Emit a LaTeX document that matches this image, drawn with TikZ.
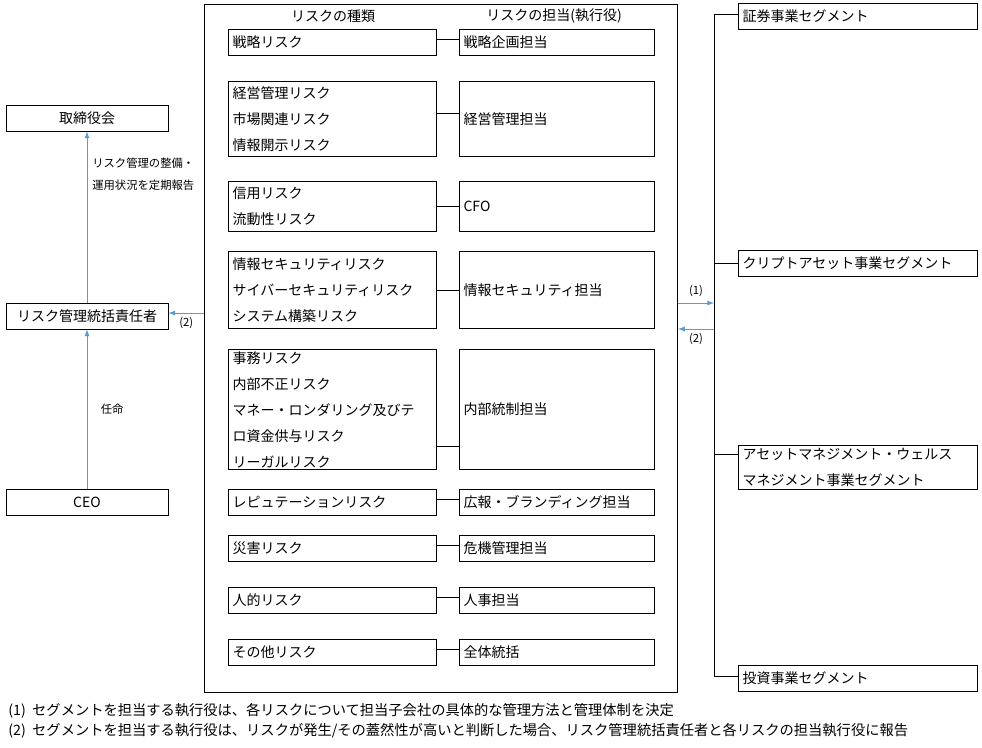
\documentclass[tikz,border=0pt]{standalone}
\usepackage{fontspec}
\setmainfont{Noto Sans CJK JP}
\usetikzlibrary{arrows}
\definecolor{linkblue}{RGB}{91, 155, 213}

\begin{document}
\begin{tikzpicture}[x=0.75pt, y=-0.75pt, font=\fontsize{10.5}{19.5}\selectfont,
    riskbox/.style={draw, line width=0.8pt, anchor=north west, inner xsep=3pt, inner ysep=0pt,
                    text width=150pt, align=left, minimum height=19.5pt},
    ownerbox/.style={riskbox, text width=140.25pt},
    segbox/.style={riskbox, text width=173.25pt},
    sidebox/.style={draw, line width=0.7pt, minimum width=121.5pt, minimum height=19.5pt, inner sep=0pt},
    link/.style={line width=0.75pt},
    flow/.style={-latex, linkblue, line width=0.75pt},
    note/.style={text=black, font=\fontsize{8.5}{16.5}\selectfont, align=left, inner sep=0pt, anchor=west}]
            \useasboundingbox (0,0) rectangle (982,747);
            % Frame of the risk table
            \node[draw, line width=0.8pt, anchor=north west, minimum width=354.75pt, minimum height=516pt, inner sep=0pt] (frame) at (204,4) {};
            \node (headrisk)  at (333,16) {リスクの種類};
            \node (headowner) at (554,16) {リスクの担当(執行役)};
            % Risk types
            \node[riskbox]                        (r1) at (228, 29) {戦略リスク};
            \node[riskbox, minimum height=56.25pt] (r2) at (228, 81) {経営管理リスク\\市場関連リスク\\情報開示リスク};
            \node[riskbox, minimum height=37.5pt]  (r3) at (228,181) {信用リスク\\流動性リスク};
            \node[riskbox, minimum height=57.75pt] (r4) at (228,251) {情報セキュリティリスク\\サイバーセキュリティリスク\\システム構築リスク};
            \node[riskbox, minimum height=90pt]    (r5) at (228,349) {事務リスク\\内部不正リスク\\マネー・ロンダリング及びテ\\ロ資金供与リスク\\リーガルリスク};
            \node[riskbox]                        (r6) at (228,489) {レピュテーションリスク};
            \node[riskbox]                        (r7) at (228,535) {災害リスク};
            \node[riskbox]                        (r8) at (228,587) {人的リスク};
            \node[riskbox]                        (r9) at (228,639) {その他リスク};
            % Owners
            \node[ownerbox]                        (o1) at (459, 29) {戦略企画担当};
            \node[ownerbox, minimum height=56.25pt] (o2) at (459, 81) {経営管理担当};
            \node[ownerbox, minimum height=37.5pt]  (o3) at (459,181) {CFO};
            \node[ownerbox, minimum height=57.75pt] (o4) at (459,251) {情報セキュリティ担当};
            \node[ownerbox, minimum height=90pt]    (o5) at (459,349) {内部統制担当};
            \node[ownerbox]                        (o6) at (459,489) {広報・ブランディング担当};
            \node[ownerbox]                        (o7) at (459,535) {危機管理担当};
            \node[ownerbox]                        (o8) at (459,587) {人事担当};
            \node[ownerbox]                        (o9) at (459,639) {全体統括};
            \draw[link] ([yshift=2pt]r1.east) -- ([yshift=2pt]o1.west);
            \draw[link] (r2.east |- 0,113) -- (o2.west |- 0,113);
            \draw[link] (r3.east) -- (o3.west);
            \draw[link] (r4.east) -- (o4.west);
            \draw[link] (r5.east |- 0,446) -- (o5.west |- 0,446);
            \draw[link] ([yshift=2pt]r6.east) -- ([yshift=2pt]o6.west);
            \draw[link] ([yshift=2pt]r7.east) -- ([yshift=2pt]o7.west);
            \draw[link] ([yshift=2pt]r8.east) -- ([yshift=2pt]o8.west);
            \draw[link] ([yshift=2pt]r9.east) -- ([yshift=2pt]o9.west);
            % Left column
            \node[sidebox] (board) at (87,118) {取締役会};
            \node[sidebox] (chief) at (87,316) {リスク管理統括責任者};
            \node[sidebox] (ceo)   at (87,502) {CEO};
            \draw[flow] (chief) -- (board);
            \node[note] (report) at (92,174) {リスク管理の整備・\\運用状況を定期報告};
            \draw[flow] (ceo) -- (chief)
                 node[note, pos=0.5, right=10pt] {任命};
            \draw[flow] (frame.west |- 0,313) -- (chief.east |- 0,313)
                 node[note, font=\fontsize{8.5}{10}\selectfont, anchor=north, pos=0.5, yshift=-3pt] {(2)};
            % Segments
            \node[segbox]                      (seg1) at (738,  3) {証券事業セグメント};
            \node[segbox]                      (seg2) at (738,250) {クリプトアセット事業セグメント};
            \node[segbox, minimum height=33pt] (seg3) at (738,445) {アセットマネジメント・ウェルス\\マネジメント事業セグメント};
            \node[segbox]                      (seg4) at (738,665) {投資事業セグメント};
            \coordinate (bustop) at (714,14);
            \coordinate (busbot) at (714,676);
            \draw[link] (seg1.west |- bustop) -- (bustop) -- (busbot) -- (seg4.west |- busbot);
            \draw[link] (seg2.west) -- (seg2.west -| bustop);
            \draw[link] (seg3.west |- 0,454) -- (bustop |- 0,454);
            \draw[flow] (frame.east |- 0,303) -- (bustop |- 0,303)
                 node[note, font=\fontsize{8.5}{10}\selectfont, anchor=south, pos=0.5, yshift=4pt] {(1)};
            \draw[flow] (bustop |- 0,329) -- (frame.east |- 0,329)
                 node[note, font=\fontsize{8.5}{10}\selectfont, anchor=north, pos=0.5, yshift=-3pt] {(2)};
            % Notes
            \node[anchor=west, inner sep=0pt, font=\fontsize{10.7}{15}\selectfont] (note1) at (8,711) {(1)\ \ セグメントを担当する執行役は、各リスクについて担当子会社の具体的な管理方法と管理体制を決定};
            \node[anchor=west, inner sep=0pt, font=\fontsize{10.7}{15}\selectfont] (note2) at (8,731) {(2)\ \ セグメントを担当する執行役は、リスクが発生/その蓋然性が高いと判断した場合、リスク管理統括責任者と各リスクの担当執行役に報告};
\end{tikzpicture}
\end{document}
